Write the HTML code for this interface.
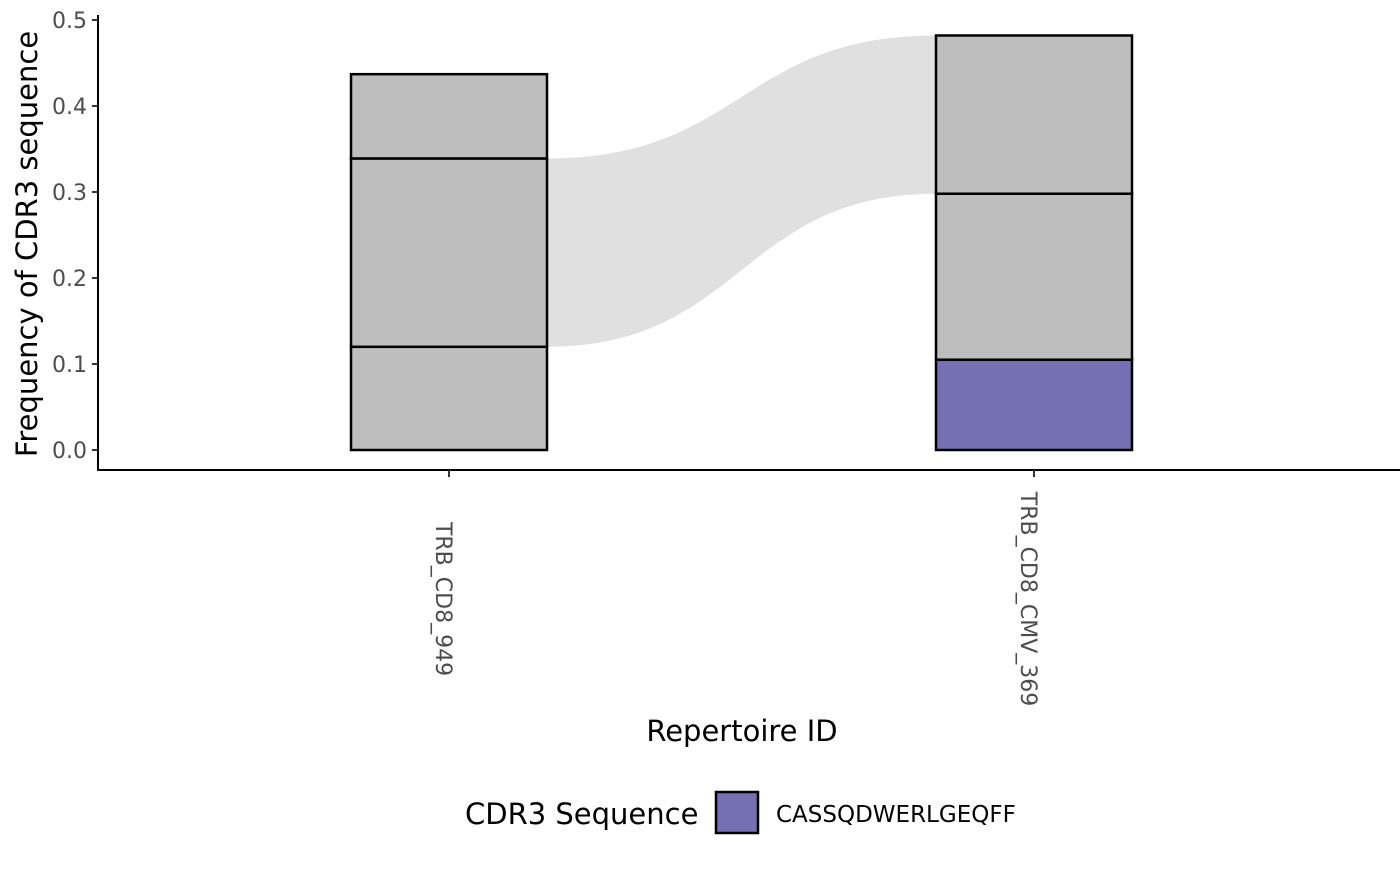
<!DOCTYPE html>
<html><head><meta charset="utf-8"><style>
html,body{margin:0;padding:0;background:#fff;}
svg text{font-family:"DejaVu Sans","Liberation Sans",sans-serif;}
</style></head><body>
<svg id="chart" width="1400" height="866" viewBox="0 0 1400 866" xmlns="http://www.w3.org/2000/svg">
<g id="flows"></g>
<g id="bars"></g>
<g id="axes"></g>
<text transform="translate(37,244) rotate(-90)" text-anchor="middle" font-size="29" fill="#000">Frequency of CDR3 sequence</text>
<text x="742" y="741" text-anchor="middle" font-size="29" fill="#000">Repertoire ID</text>
<g>
<text x="465" y="824" font-size="29" fill="#000">CDR3 Sequence</text>
<rect x="716" y="792" width="42" height="41" fill="#7570b3" stroke="#000" stroke-width="2.5"/>
<text x="776" y="822" font-size="23" fill="#000">CASSQDWERLGEQFF</text>
</g>
</svg>
<script>
const categories = ["TRB_CD8_949", "TRB_CD8_CMV_369"];
const seg1 = [0.12, 0.219, 0.098];
const seg2 = [0.105, 0.193, 0.184];
const highlight = [false, true];
const yTicks = [0.0, 0.1, 0.2, 0.3, 0.4, 0.5];
const flowFrom = [0.12, 0.339];
const flowTo = [0.298, 0.482];

const NS = "http://www.w3.org/2000/svg";
const y = v => 450 - v * 860;
const xc = i => 449 + i * 585;
const bw = 196;
function mk(tag, attrs, parent){const e=document.createElementNS(NS,tag);for(const k in attrs)e.setAttribute(k,attrs[k]);parent.appendChild(e);return e;}

const flows = document.getElementById('flows');
{
  const x0 = xc(0)+bw/2, x1 = xc(1)-bw/2, m=(x0+x1)/2;
  const d = `M${x0},${y(flowFrom[1])} C${m},${y(flowFrom[1])} ${m},${y(flowTo[1])} ${x1},${y(flowTo[1])} L${x1},${y(flowTo[0])} C${m},${y(flowTo[0])} ${m},${y(flowFrom[0])} ${x0},${y(flowFrom[0])} Z`;
  const p = mk('path',{d:d,fill:'#e0e0e0'},flows);
  
  
}

const bars = document.getElementById('bars');
[seg1, seg2].forEach((segs, i) => {
  let cum = 0;
  segs.forEach((v, j) => {
    const fill = (i===1 && j===0 && highlight[1]) ? '#7570b3' : '#bebebe';
    const r = mk('rect',{x:xc(i)-bw/2,y:y(cum+v),width:bw,height:y(cum)-y(cum+v),fill:fill,stroke:'#000','stroke-width':2.5},bars);
    
    
    cum += v;
  });
});

const axes = document.getElementById('axes');
mk('line',{x1:98,y1:15,x2:98,y2:471,stroke:'#000','stroke-width':2},axes);
mk('line',{x1:97,y1:470,x2:1400,y2:470,stroke:'#000','stroke-width':2},axes);
yTicks.forEach(t => {
  mk('line',{x1:92,y1:y(t),x2:98,y2:y(t),stroke:'#333','stroke-width':2},axes);
  const tx = mk('text',{x:87,y:y(t)+8,'text-anchor':'end','font-size':22,fill:'#4d4d4d'},axes);
  tx.textContent = t.toFixed(1);
  
  
});
categories.forEach((c, i) => {
  mk('line',{x1:xc(i),y1:470,x2:xc(i),y2:477,stroke:'#333','stroke-width':2},axes);
  const tx = mk('text',{transform:`translate(${xc(i)-13},599) rotate(90)`,'text-anchor':'middle','font-size':22,fill:'#4d4d4d'},axes);
  tx.textContent = c;
  
  
});
</script>
</body></html>
